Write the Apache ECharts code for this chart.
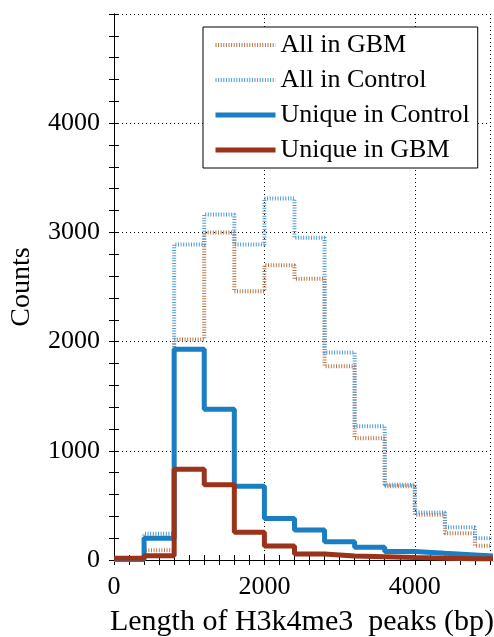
<!DOCTYPE html>
<html><head><meta charset="utf-8">
<script src="https://cdn.jsdelivr.net/npm/echarts@6/dist/echarts.min.js"></script>
<style>html,body{margin:0;padding:0;background:#fff}#c{width:494px;height:637px}</style>
</head><body><div id="c"></div>
<script>
const binEdges = [0,400,800,1200,1600,2000,2400,2800,3200,3600,4000,4400,4800,5200];
const allGBM        = [0, 90, 2020, 3000, 2460, 2700, 2575, 1775, 1115, 675, 415, 245, 130];
const allControl    = [0, 240, 2890, 3165, 2890, 3310, 2950, 1900, 1225, 690, 435, 300, 200];
const uniqueControl = [5, 200, 1930, 1380, 675, 380, 275, 168, 116, 77, 61, 46, 31];
const uniqueGBM     = [15, 40, 832, 690, 254, 128, 55, 37, 30, 22, 16, 12, 10];
const seriesNames = ['All in GBM','All in Control','Unique in Control','Unique in GBM'];
const xTickLabels = [0, 2000, 4000];
const yTickLabels = [0, 1000, 2000, 3000, 4000];

function steps(vals){
  const d = vals.map((v,i)=>[binEdges[i], v]);
  d.push([binEdges[vals.length], vals[vals.length-1]]);
  return d;
}
const F = 'Liberation Serif, Times New Roman, serif';
const tick = {show:true, inside:true, length:5, lineStyle:{color:'#000', width:1}};
const axLine = {show:true, lineStyle:{color:'#000', width:1}};
const grid = {show:true, lineStyle:{color:'#000', width:1, type:[1,3]}};

const chart = echarts.init(document.getElementById('c'));
chart.setOption({
  animation:false,
  backgroundColor:'#fff',
  grid:{left:114, right:4, top:14, bottom:77, containLabel:false, outerBoundsMode:'none'},
  legend:{
    data:seriesNames, orient:'vertical', left:203, top:27,
    itemWidth:60, itemHeight:14, itemGap:9,
    padding:[5,8,5,10],
    borderColor:'#000', borderWidth:1, backgroundColor:'#fff',
    itemStyle:{opacity:0},
    lineStyle:{width:'inherit'},
    textStyle:{fontFamily:F, fontSize:26, color:'#000'}
  },
  xAxis:[
    {type:'value', min:0, max:5000, interval:200, position:'bottom',
     axisLine:axLine, axisTick:tick, splitLine:{show:false},
     name:'Length of H3k4me3  peaks (bp)', nameLocation:'middle', nameGap:47,
     nameTextStyle:{fontFamily:F, fontSize:30, color:'#000'},
     axisLabel:{margin:14, fontFamily:F, fontSize:26, color:'#000',
       formatter:v=> xTickLabels.includes(v) ? String(v) : ''}},
    {type:'value', min:0, max:5000, interval:200, position:'top',
     axisLine:axLine, axisTick:tick, splitLine:{show:false}, axisLabel:{show:false}},
    {type:'value', min:0, max:5000, interval:2000, position:'bottom',
     axisLine:{show:false}, axisTick:{show:false}, axisLabel:{show:false}, splitLine:grid}
  ],
  yAxis:[
    {type:'value', min:0, max:5000, interval:200, position:'left',
     axisLine:axLine, axisTick:tick, splitLine:{show:false},
     name:'Counts', nameLocation:'middle', nameGap:78,
     nameTextStyle:{fontFamily:F, fontSize:28, color:'#000'},
     axisLabel:{margin:14, fontFamily:F, fontSize:26, color:'#000',
       formatter:v=> yTickLabels.includes(v) ? String(v) : ''}},
    {type:'value', min:0, max:5000, interval:200, position:'right',
     axisLine:axLine, axisTick:tick, splitLine:{show:false}, axisLabel:{show:false}},
    {type:'value', min:0, max:5000, interval:1000, position:'left',
     axisLine:{show:false}, axisTick:{show:false}, axisLabel:{show:false}, splitLine:grid}
  ],
  series:[
    {name:seriesNames[0], type:'line', step:'end', data:steps(allGBM), symbol:'none', showSymbol:false,
     lineStyle:{color:'#b8784e', width:4, type:[1,1.6], cap:'butt'}, itemStyle:{color:'#b8784e'}, z:2},
    {name:seriesNames[1], type:'line', step:'end', data:steps(allControl), symbol:'none', showSymbol:false,
     lineStyle:{color:'#4e9ad2', width:4, type:[1,1.6], cap:'butt'}, itemStyle:{color:'#4e9ad2'}, z:3},
    {name:seriesNames[2], type:'line', step:'end', data:steps(uniqueControl), symbol:'none', showSymbol:false,
     lineStyle:{color:'#1b7dc2', width:5}, itemStyle:{color:'#1b7dc2'}, z:4},
    {name:seriesNames[3], type:'line', step:'end', data:steps(uniqueGBM), symbol:'none', showSymbol:false,
     lineStyle:{color:'#9a3319', width:5}, itemStyle:{color:'#9a3319'}, z:5}
  ]
});
</script></body></html>
